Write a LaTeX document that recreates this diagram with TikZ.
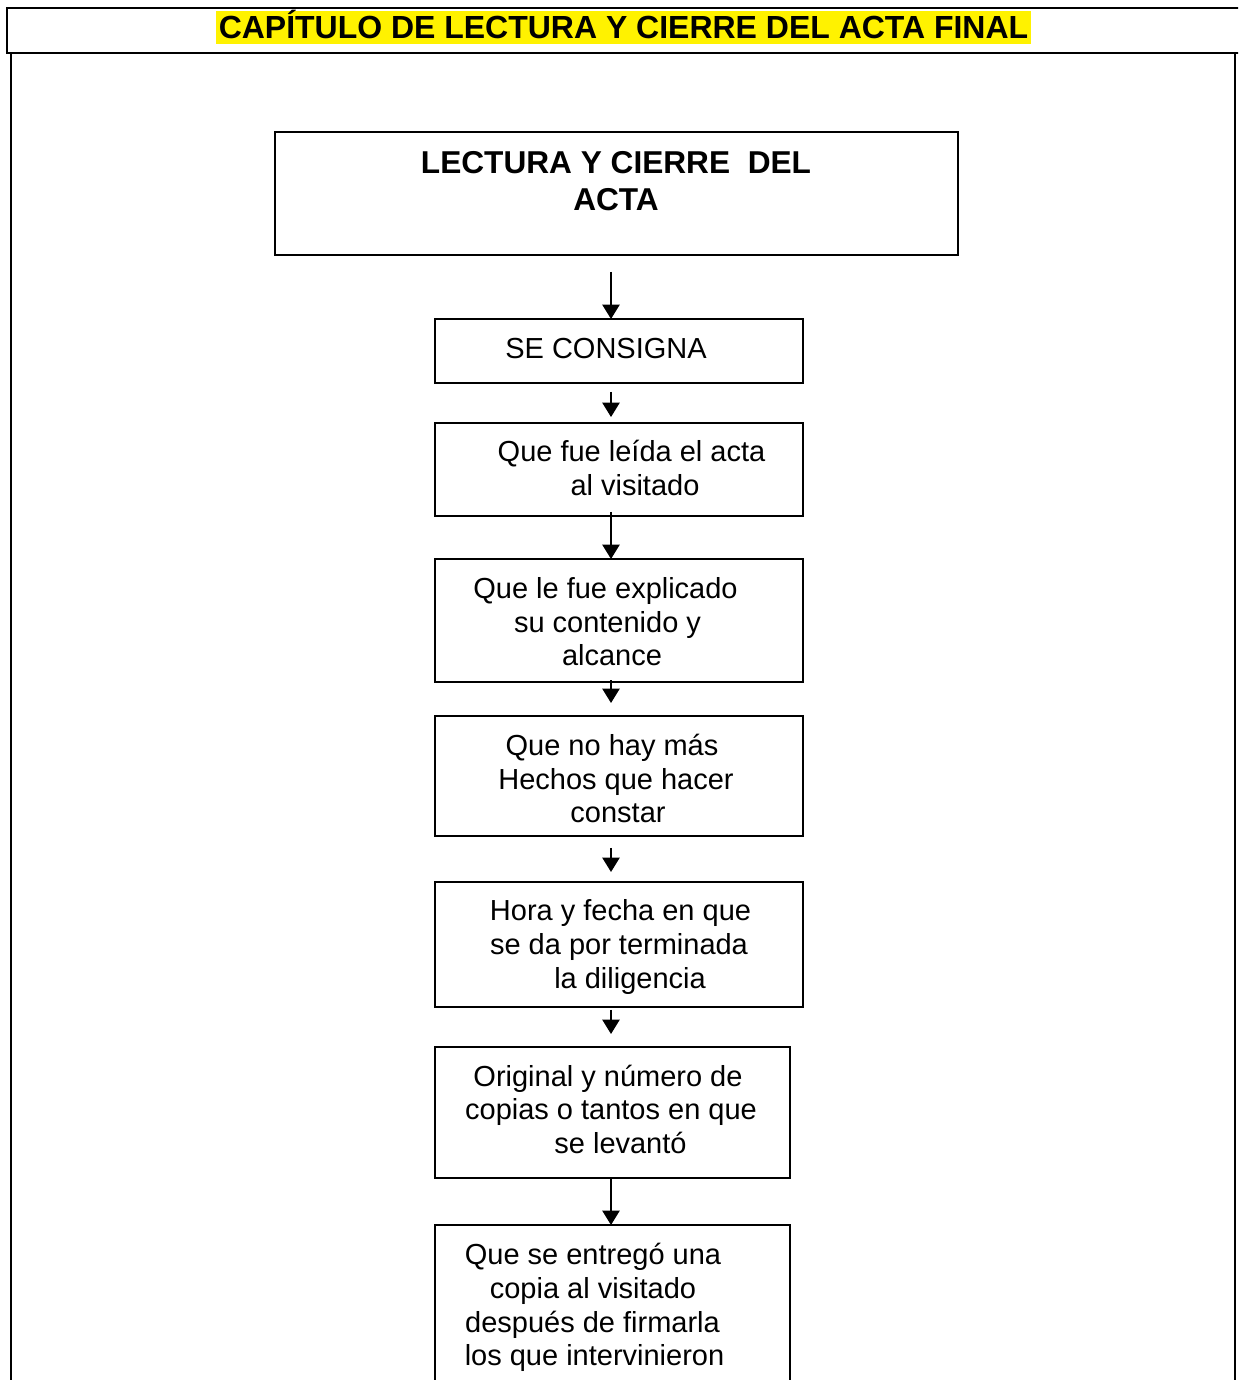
\documentclass[tikz,border=0pt]{standalone}
\usepackage{fontspec}
\setmainfont{Liberation Sans}
\usetikzlibrary{arrows.meta}

\tikzset{
  stepbox/.style={draw, line width=1.1pt, rectangle, anchor=north west,
    inner sep=0pt, outer sep=0pt},
  lbl/.style={anchor=base, inner sep=0pt, font=\fontsize{16.5}{19}\selectfont},
  boldlbl/.style={anchor=base, inner sep=0pt, font=\bfseries\fontsize{18}{21}\selectfont},
  frameline/.style={line width=1.2pt},
  flow/.style={line width=1.1pt, -{Triangle[length=8.2pt,width=9.8pt]}},
}

\begin{document}
\begin{tikzpicture}[x=0.02cm, y=-0.02cm]
  \useasboundingbox (0,0) rectangle (1238,1380);
  \clip (0,0) rectangle (1238,1380);

  % heading row and body frame
  \draw[frameline] (1240,8) -- (7,8) -- (7,53) -- (1240,53);
  \draw[frameline] (11,53) -- (11,1400);
  \draw[frameline] (1235,53) -- (1235,1400);
  \node[boldlbl, font=\bfseries\fontsize{18.2}{21}\selectfont, fill=yellow,
    inner xsep=1.8pt, text height=15.3pt, text depth=3.4pt]
    (title) at (623.5,38) {CAPÍTULO DE LECTURA Y CIERRE DEL ACTA FINAL};

  % boxes (width and height in pixels of 0.02cm)
  \node[stepbox, minimum width=13.66cm, minimum height=2.46cm] (b1) at (275,132) {};
  \node[stepbox, minimum width=7.36cm, minimum height=1.28cm] (b2) at (435,319) {};
  \node[stepbox, minimum width=7.36cm, minimum height=1.86cm] (b3) at (435,423) {};
  \node[stepbox, minimum width=7.36cm, minimum height=2.46cm] (b4) at (435,559) {};
  \node[stepbox, minimum width=7.36cm, minimum height=2.40cm] (b5) at (435,716) {};
  \node[stepbox, minimum width=7.36cm, minimum height=2.50cm] (b6) at (435,882) {};
  \node[stepbox, minimum width=7.10cm, minimum height=2.62cm] (b7) at (435,1047) {};
  \node[stepbox, minimum width=7.10cm, minimum height=3.60cm] (b8) at (435,1225) {};

  % box texts
  \node[boldlbl] (t1a) at (616,173) {LECTURA Y CIERRE\ \ DEL};
  \node[boldlbl] (t1b) at (616,210) {ACTA};

  \node[lbl] (t2a) at (606,358) {SE CONSIGNA};

  \node[lbl] (t3a) at (631.5,461) {Que fue leída el acta};
  \node[lbl] (t3b) at (635,495) {al visitado};

  \node[lbl] (t4a) at (605.5,598) {Que le fue explicado};
  \node[lbl] (t4b) at (607.5,632) {su contenido y};
  \node[lbl] (t4c) at (612,665) {alcance};

  \node[lbl] (t5a) at (612,755) {Que no hay más};
  \node[lbl] (t5b) at (616,789) {Hechos que hacer};
  \node[lbl] (t5c) at (618,822) {constar};

  \node[lbl] (t6a) at (620.5,920) {Hora y fecha en que};
  \node[lbl] (t6b) at (619,954) {se da por terminada};
  \node[lbl] (t6c) at (630,988) {la diligencia};

  \node[lbl] (t7a) at (608,1086) {Original y número de};
  \node[lbl] (t7b) at (611,1119) {copias o tantos en que};
  \node[lbl] (t7c) at (620.5,1153) {se levantó};

  \node[lbl] (t8a) at (593,1264) {Que se entregó una};
  \node[lbl] (t8b) at (593,1298) {copia al visitado};
  \node[lbl] (t8c) at (592.5,1332) {después de firmarla};
  \node[lbl] (t8d) at (594.5,1365) {los que intervinieron};

  % connectors along the flow axis
  \coordinate (ax) at (611,0);
  \draw[flow, shorten <=9.6pt] (b1.south -| ax) -- (b2.north -| ax);
  \draw[flow, shorten <=5.1pt, shorten >=3.4pt] (b2.south -| ax) -- (b3.north -| ax);
  \draw[flow, shorten <=-2.3pt] (b3.south -| ax) -- (b4.north -| ax);
  \draw[flow, shorten <=-1.1pt, shorten >=7.4pt] (b4.south -| ax) -- (b5.north -| ax);
  \draw[flow, shorten <=6.8pt, shorten >=5.7pt] (b5.south -| ax) -- (b6.north -| ax);
  \draw[flow, shorten <=1.7pt, shorten >=7.4pt] (b6.south -| ax) -- (b7.north -| ax);
  \draw[flow] (b7.south -| ax) -- (b8.north -| ax);
\end{tikzpicture}
\end{document}
